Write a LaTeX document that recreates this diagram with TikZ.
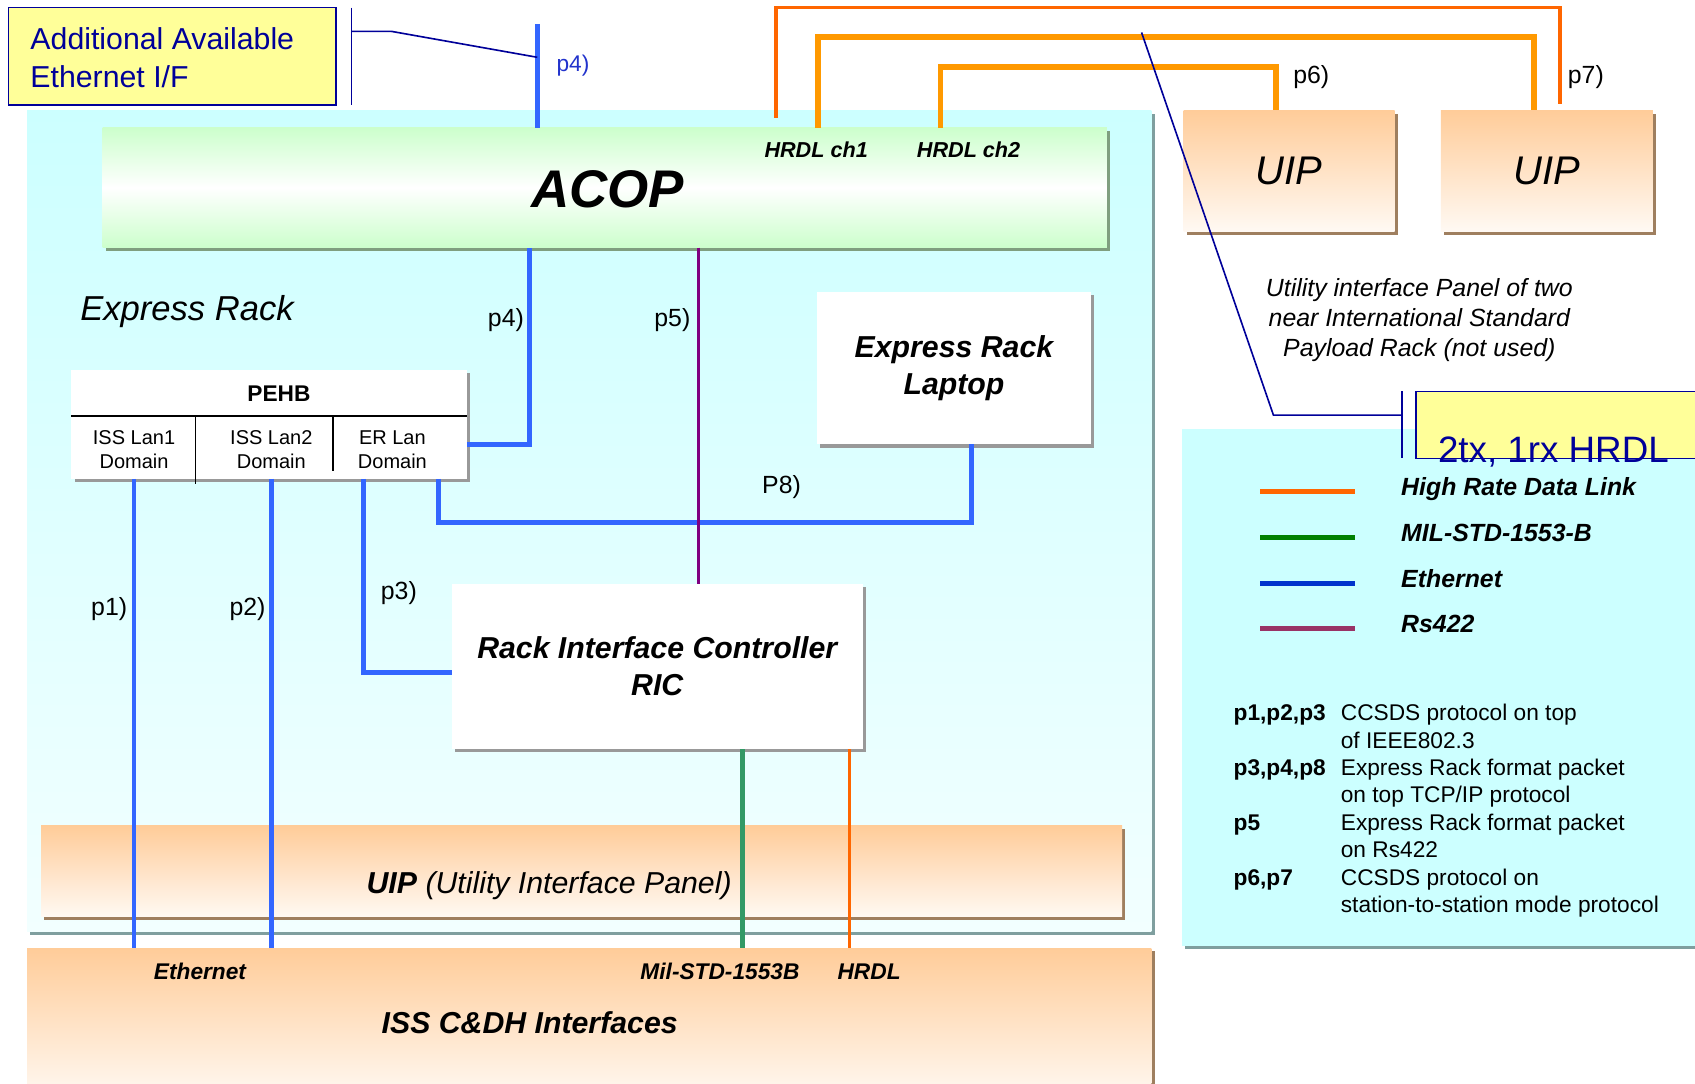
\documentclass[tikz,border=0pt]{standalone}
\usepackage{fontspec}
\setmainfont{Liberation Sans}
\usetikzlibrary{shadows}
\definecolor{ethblue}{HTML}{3366FF}
\definecolor{navy}{HTML}{000099}
\definecolor{hrdlA}{HTML}{FF6600}
\definecolor{hrdlB}{HTML}{FF9900}
\definecolor{rspurple}{HTML}{800080}
\definecolor{milgreen}{HTML}{339966}
\definecolor{rackcyan}{HTML}{CCFFFF}
\definecolor{rackpale}{HTML}{F2FFFF}
\definecolor{acopgreen}{HTML}{CCFFCC}
\definecolor{peach}{HTML}{FFCC99}
\definecolor{peachpale}{HTML}{FFF9F3}
\definecolor{paleyellow}{HTML}{FFFF99}
\definecolor{tealshadow}{HTML}{7F9F9F}
\definecolor{greenshadow}{HTML}{7F9F7F}
\definecolor{brownshadow}{HTML}{9F7F5F}
\definecolor{grayshadow}{HTML}{999999}
\definecolor{leggreen}{HTML}{008000}
\definecolor{legblue}{HTML}{0033CC}
\definecolor{legrs}{HTML}{993366}
\definecolor{lblblue}{HTML}{2233CC}
\newcommand{\fsz}[2]{\fontsize{#1}{#2}\selectfont}
\begin{document}
\begin{tikzpicture}[x=1pt,y=-1pt,
  blk/.style={rectangle, anchor=north west, inner sep=0pt, outer sep=0pt},
  shd/.style={general shadow={fill=#1, shadow xshift=3pt, shadow yshift=-3pt}},
  peachbox/.style={blk, top color=peach, bottom color=peachpale, shd=brownshadow},
  whitebox/.style={blk, fill=white, shd=grayshadow},
  yelbox/.style={blk, fill=paleyellow, draw=navy, line width=1.5pt},
  lbl/.style={inner sep=0pt, font=\fsz{23}{28}},
  eth/.style={draw=ethblue, line width=4.5pt},
  navyline/.style={draw=navy, line width=1.5pt},
  hrdlthin/.style={draw=hrdlA, line width=3.5pt},
  hrdlthick/.style={draw=hrdlB, line width=5.5pt},
  legline/.style={line width=4.5pt}
]
\fill[white] (0,0) rectangle (1568,1002);
\useasboundingbox (0,0) rectangle (1568,1002);

% ---------- boxes ----------
\node[blk, minimum width=1040pt, minimum height=760pt, top color=rackcyan, bottom color=rackpale, shd=tealshadow] (rack) at (25,102) {};
\node[peachbox, minimum width=1040pt, minimum height=140pt] (cdh) at (25,877) {};
\node[peachbox, minimum width=1000pt, minimum height=84pt] (uipp) at (38,764) {};
\node[blk, minimum width=929pt, minimum height=111pt, top color=acopgreen, bottom color=acopgreen, middle color=white, shd=greenshadow] (acop) at (95,118) {};
\node[whitebox, minimum width=366pt, minimum height=101pt] (pehb) at (66,342) {};
\node[whitebox, minimum width=253pt, minimum height=141pt, font=\fsz{28}{34}\bfseries\itshape, align=center] (laptop) at (756,270) {Express Rack\\Laptop};
\node[whitebox, minimum width=380pt, minimum height=153pt, font=\fsz{28}{34}\bfseries\itshape, align=center] (ric) at (418,540) {Rack Interface Controller\\RIC};
\node[peachbox, minimum width=195pt, minimum height=112pt, font=\fsz{37}{40}\itshape] (uipA) at (1095,102) {UIP};
\node[peachbox, minimum width=196pt, minimum height=112pt, font=\fsz{37}{40}\itshape] (uipB) at (1333,102) {UIP};
\node[blk, minimum width=480pt, minimum height=478pt, fill=rackcyan, shd=tealshadow] (legend) at (1093,397) {};
\node[yelbox, minimum width=303pt, minimum height=90pt] (addeth) at (8,7) {};
\node[yelbox, minimum width=280pt, minimum height=62pt] (hrdlbox) at (1310,362) {};

% ---------- PEHB table ----------
\draw[line width=1.3pt] (pehb.north west) ++(0,43) coordinate (rowL) -- (rowL -| pehb.east);
\coordinate (sep1) at (181,385);
\coordinate (sep2) at (308,385);
\draw[line width=1.3pt] (sep1) -- ++(0,63);
\draw[line width=1.3pt] (sep2) -- ++(0,51);
\node[inner sep=0pt, font=\fsz{21}{25}\bfseries] (pehbT) at (258,364) {PEHB};
\node[inner sep=0pt, font=\fsz{18.5}{22}, align=center] (lan1) at (124,416) {ISS Lan1\\Domain};
\node[inner sep=0pt, font=\fsz{18.5}{22}, align=center] (lan2) at (251,416) {ISS Lan2\\Domain};
\node[inner sep=0pt, font=\fsz{18.5}{22}, align=center] (erlan) at (363,416) {ER Lan\\Domain};

% ---------- coordinates for connectors ----------
\coordinate (p3x) at (336,446);
\coordinate (p8a) at (406,483);
\coordinate (p8b) at (899,483);
\coordinate (p4a) at (490,411);
\coordinate (p5x) at (646,300);
\coordinate (milx) at (687,800);
\coordinate (hrdx) at (786,800);
\coordinate (p4top) at (497,22);
\coordinate (p4hit) at (497,53);
\coordinate (brkT) at (325,7);
\coordinate (brkB) at (325,97);
\coordinate (brkM) at (325,29);
\coordinate (brkK) at (362,29);
\coordinate (hA1) at (718,7);
\coordinate (hA2) at (1443,7);
\coordinate (hB1) at (757,34);
\coordinate (hB2) at (1419,34);
\coordinate (hC1) at (870,62);
\coordinate (hC2) at (1180,62);
\coordinate (diagT) at (1056,30);
\coordinate (diagK) at (1178,384);
\coordinate (brk2T) at (1297,362);
\coordinate (brk2B) at (1297,424);

% ---------- Ethernet ----------
\draw[eth] (lan1 |- pehb.south) -- (lan1 |- cdh.north);
\draw[eth] (lan2 |- pehb.south) -- (lan2 |- cdh.north);
\draw[eth] (p3x |- pehb.south) |- ([yshift=-6pt]ric.west);
\draw[eth] (p8a |- pehb.south) -- (p8a) -- (p8b) -- (p8b |- laptop.south);
\draw[eth] (p4a -| pehb.east) -- (p4a) -- (p4a |- acop.south);
\draw[eth] (p4top) -- (p4top |- acop.north);

% ---------- Rs422, MIL, HRDL ----------
\draw[draw=rspurple, line width=3pt] (p5x |- acop.south) -- (p5x |- ric.north);
\draw[draw=milgreen, line width=4pt] (milx |- ric.south) -- (milx |- cdh.north);
\draw[draw=hrdlA, line width=3pt] (hrdx |- ric.south) -- (hrdx |- cdh.north);

\draw[hrdlthin] ([yshift=9pt]hA1 |- acop.north) -- (hA1) -- (hA2) -- ([yshift=6pt]hA2 |- uipB.north);
\draw[hrdlthick] (hB1 |- acop.north) -- (hB1) -- (hB2) -- (hB2 |- uipB.north);
\draw[hrdlthick] (hC1 |- acop.north) -- (hC1) -- (hC2) -- (hC2 |- uipA.north);

% ---------- navy callouts ----------
\draw[navyline] (brkT) -- (brkB);
\draw[navyline] (brkM) -- (brkK) -- (p4hit);
\draw[navyline] (diagT) -- (diagK) -- (diagK -| brk2T);
\draw[navyline] (brk2T) -- (brk2B);

% ---------- texts ----------
\node[inner sep=0pt, anchor=west, font=\fsz{28}{35}, text=navy, align=left] (addethT) at (28,53) {Additional Available\\Ethernet I/F};
\node[inner sep=0pt, font=\fsz{21}{25}, text=lblblue] (p4topL) at (530,61) {p4)};
\node[inner sep=0pt, font=\fsz{49}{55}\bfseries\itshape] (acopT) at (562,175) {ACOP};
\node[inner sep=0pt, font=\fsz{20}{24}\bfseries\itshape] (ch1) at (755,139) {HRDL ch1};
\node[inner sep=0pt, font=\fsz{20}{24}\bfseries\itshape] (ch2) at (896,139) {HRDL ch2};
\node[lbl] (p6L) at (1213,71) {p6)};
\node[lbl] (p7L) at (1467,71) {p7)};
\node[inner sep=0pt, font=\fsz{23}{28}\itshape, align=center] (uipnote) at (1313,296) {Utility interface Panel of two\\near International Standard\\Payload Rack (not used)};
\node[inner sep=0pt, font=\fsz{34}{40}, text=navy] (hrdlT) at (1437,418) {2tx, 1rx HRDL};
\node[inner sep=0pt, font=\fsz{32}{38}\itshape] (erT) at (173,288) {Express Rack};
\node[lbl] (p4L) at (468,296) {p4)};
\node[lbl] (p5L) at (622,296) {p5)};
\node[lbl] (p8L) at (723,451) {P8)};
\node[lbl] (p1L) at (101,563) {p1)};
\node[lbl] (p2L) at (229,563) {p2)};
\node[lbl] (p3L) at (369,549) {p3)};
\node[inner sep=0pt, font=\fsz{28}{34}\itshape] (uippT) at (508,819) {\textbf{UIP} (Utility Interface Panel)};
\node[inner sep=0pt, font=\fsz{21}{25}\bfseries\itshape] (ethT) at (185,899) {Ethernet};
\node[inner sep=0pt, font=\fsz{21}{25}\bfseries\itshape] (milT) at (666,899) {Mil-STD-1553B};
\node[inner sep=0pt, font=\fsz{21}{25}\bfseries\itshape] (hrdT) at (804,899) {HRDL};
\node[inner sep=0pt, font=\fsz{28}{34}\bfseries\itshape] (cdhT) at (490,946) {ISS C\&DH Interfaces};

% ---------- legend ----------
\draw[legline, hrdlA] (1166,455) -- (1253,455);
\draw[legline, leggreen] (1166,497) -- (1253,497);
\draw[legline, legblue] (1166,540) -- (1253,540);
\draw[legline, legrs] (1166,581) -- (1253,581);
\node[inner sep=0pt, anchor=west, font=\fsz{23}{28}\bfseries\itshape] (lg1) at (1296,452) {High Rate Data Link};
\node[inner sep=0pt, anchor=west, font=\fsz{23}{28}\bfseries\itshape] (lg2) at (1296,493) {MIL-STD-1553-B};
\node[inner sep=0pt, anchor=west, font=\fsz{23}{28}\bfseries\itshape] (lg3) at (1296,535) {Ethernet};
\node[inner sep=0pt, anchor=west, font=\fsz{23}{28}\bfseries\itshape] (lg4) at (1296,577) {Rs422};

\node[inner sep=0pt, anchor=north west, font=\fsz{21}{25.3}] (proto) at (1141,649) {%
\begin{tabular}{@{}l@{\hspace{14pt}}l@{}}
\textbf{p1,p2,p3} & CCSDS protocol on top\\
 & of IEEE802.3\\
\textbf{p3,p4,p8} & Express Rack format packet\\
 & on top TCP/IP protocol\\
\textbf{p5} & Express Rack format packet\\
 & on Rs422\\
\textbf{p6,p7} & CCSDS protocol on\\
 & station-to-station mode protocol
\end{tabular}};
\end{tikzpicture}
\end{document}
